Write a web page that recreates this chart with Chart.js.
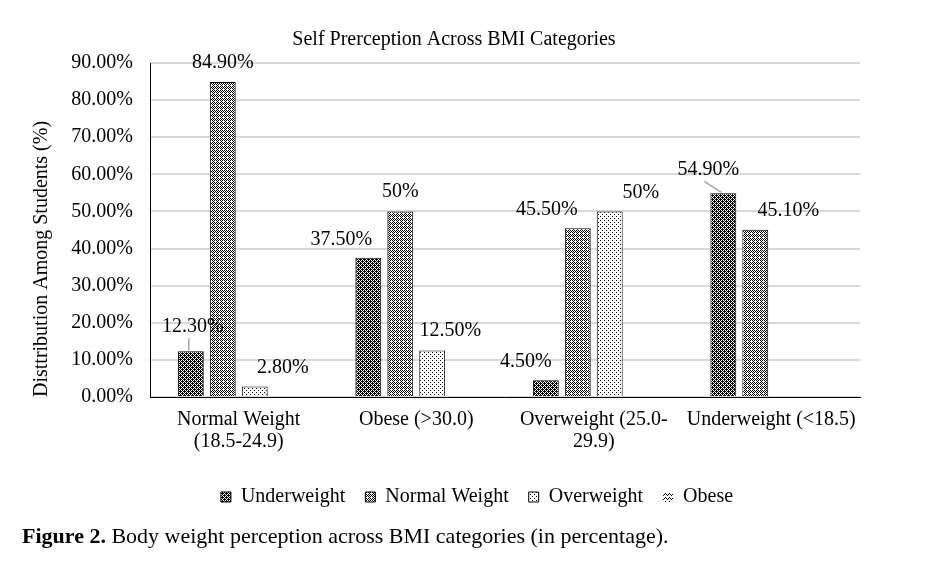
<!DOCTYPE html>
<html lang="en">
<head>
<meta charset="utf-8">
<title>Self Perception Across BMI Categories</title>
<script src="https://cdn.jsdelivr.net/npm/chart.js@4.4.0/dist/chart.umd.min.js"></script>
<style>
body {
  margin: 0;
  background: #fff;
  font-family: 'Liberation Serif', 'Times New Roman', serif;
}
.chart-container {
  position: relative;
  width: 908px;
  height: 525px;
}
.caption {
  position: absolute;
  left: 22px;
  top: 523px;
  font-size: 22px;
  color: #000;
}
</style>
</head>
<body>
<div class="chart-container"><canvas id="bmi-chart"></canvas></div>
<div class="caption"><b>Figure 2.</b> Body weight perception across BMI categories (in percentage).</div>

<script>
/* data (percent) */
const categories = [['Normal Weight', '(18.5-24.9)'], 'Obese (>30.0)', ['Overweight (25.0-', '29.9)'], 'Underweight (<18.5)'];
const seriesNames = ['Underweight', 'Normal Weight', 'Overweight', 'Obese'];
const underweight = [12.3, 37.5, 4.5, 54.9];
const normalWeight = [84.9, 50, 45.5, 45.1];
const overweight = [2.8, 12.5, 50, null];
const obese = [null, null, null, null];
const yMin = 0, yMax = 90, yStep = 10;

const FONT = 'Liberation Serif';

/* little bitmap fills like the Excel pattern fills */
function makePattern(rows) {
  const c = document.createElement('canvas');
  c.width = rows[0].length;
  c.height = rows.length;
  const g = c.getContext('2d');
  g.fillStyle = '#fff';
  g.fillRect(0, 0, c.width, c.height);
  g.fillStyle = '#000';
  rows.forEach((r, y) => {
    for (let x = 0; x < r.length; x++) if (r[x] === 'x') g.fillRect(x, y, 1, 1);
  });
  return g.createPattern(c, 'repeat');
}

const patterns = [
  makePattern(['x.x.', '.xxx', 'x.x.', 'xx.x']),
  makePattern(['x.x.', '.x..', 'x.x.', '.x.x']),
  makePattern(['x...', '....', '..x.', '....']),
  makePattern(['........', '.x...x..', 'x.x.x.x.', '...x...x'])
];

/* label nudges [dx, dy] and leader lines, per series / category */
const labelOffsets = [
  [[2, -12], [-27, -5], [-20, -6], [-15, -11]],
  [[0, -6], [0, -7], [-31, -5], [33, -6]],
  [[28, -6], [18, -7], [31, -6], [0, 0]],
  [[0, 0], [0, 0], [0, 0], [0, 0]]
];
const leaders = [[true, false, false, true], [], [], []];

function fmtPct(v) {
  return (v % 1 === 0 ? v : v.toFixed(2)) + '%';
}

const barLabels = {
  id: 'barLabels',
  afterDatasetsDraw(chart) {
    const ctx = chart.ctx;
    ctx.save();
    ctx.font = '20px ' + FONT;
    ctx.fillStyle = '#000';
    ctx.textAlign = 'center';
    ctx.textBaseline = 'middle';
    chart.data.datasets.forEach((ds, i) => {
      const meta = chart.getDatasetMeta(i);
      meta.data.forEach((bar, j) => {
        const v = ds.data[j];
        if (v == null) return;
        const [dx, dy] = labelOffsets[i][j];
        const lx = bar.x + dx;
        const ly = bar.y - 13 + dy;
        if (leaders[i][j]) {
          ctx.strokeStyle = '#a6a6a6';
          ctx.lineWidth = 1.5;
          ctx.beginPath();
          ctx.moveTo(lx - 4, ly + 12);
          ctx.lineTo(bar.x - 2, bar.y - 1);
          ctx.stroke();
        }
        ctx.fillText(fmtPct(v), lx, ly);
      });
    });
    ctx.restore();
  }
};

/* the legend in the figure sits a bit right of the canvas centre */
const legendNudge = {
  id: 'legendNudge',
  afterLayout(chart) {
    chart.legend.left += 23;
    chart.legend.right += 23;
  }
};

const seriesData = [underweight, normalWeight, overweight, obese];

new Chart(document.getElementById('bmi-chart'), {
  type: 'bar',
  data: {
    labels: categories,
    datasets: seriesNames.map((name, i) => ({
      label: name,
      data: seriesData[i],
      backgroundColor: patterns[i],
      borderColor: '#000',
      borderWidth: i === 3 ? 0 : 1
    }))
  },
  options: {
    responsive: true,
    maintainAspectRatio: false,
    animation: false,
    layout: { padding: { left: 48, right: 48, top: 0, bottom: 8 } },
    datasets: { bar: { categoryPercentage: 0.72, barPercentage: 0.81 } },
    plugins: {
      title: {
        display: true,
        text: 'Self Prerception Across BMI Categories',
        color: '#000',
        font: { family: FONT, size: 20, weight: 'normal' },
        padding: { top: 28, bottom: 11 }
      },
      legend: {
        position: 'bottom',
        labels: {
          boxWidth: 10,
          boxHeight: 10,
          padding: 20,
          color: '#000',
          font: { family: FONT, size: 20 }
        }
      },
      tooltip: { enabled: false }
    },
    scales: {
      x: {
        grid: { display: false },
        border: { color: '#000', width: 1 },
        ticks: {
          color: '#000',
          font: { family: FONT, size: 20, lineHeight: 1.1 },
          padding: 4,
          maxRotation: 0,
          autoSkip: false
        },
        afterFit(scale) { scale.height += 10; }
      },
      y: {
        min: yMin,
        max: yMax,
        grid: { color: '#d9d9d9', lineWidth: 2, drawTicks: false },
        border: { color: '#000', width: 1 },
        ticks: {
          stepSize: yStep,
          color: '#000',
          padding: 17,
          font: { family: FONT, size: 20 },
          callback: v => v.toFixed(2) + '%'
        },
        title: {
          display: true,
          text: 'Disttribution Among Students (%)',
          align: 'start',
          color: '#000',
          padding: { top: -18, bottom: 0 },
          font: { family: FONT, size: 20 }
        },
        afterFit(scale) { scale.width = 102; }
      }
    }
  },
  plugins: [barLabels, legendNudge]
});
</script>
</body>
</html>
